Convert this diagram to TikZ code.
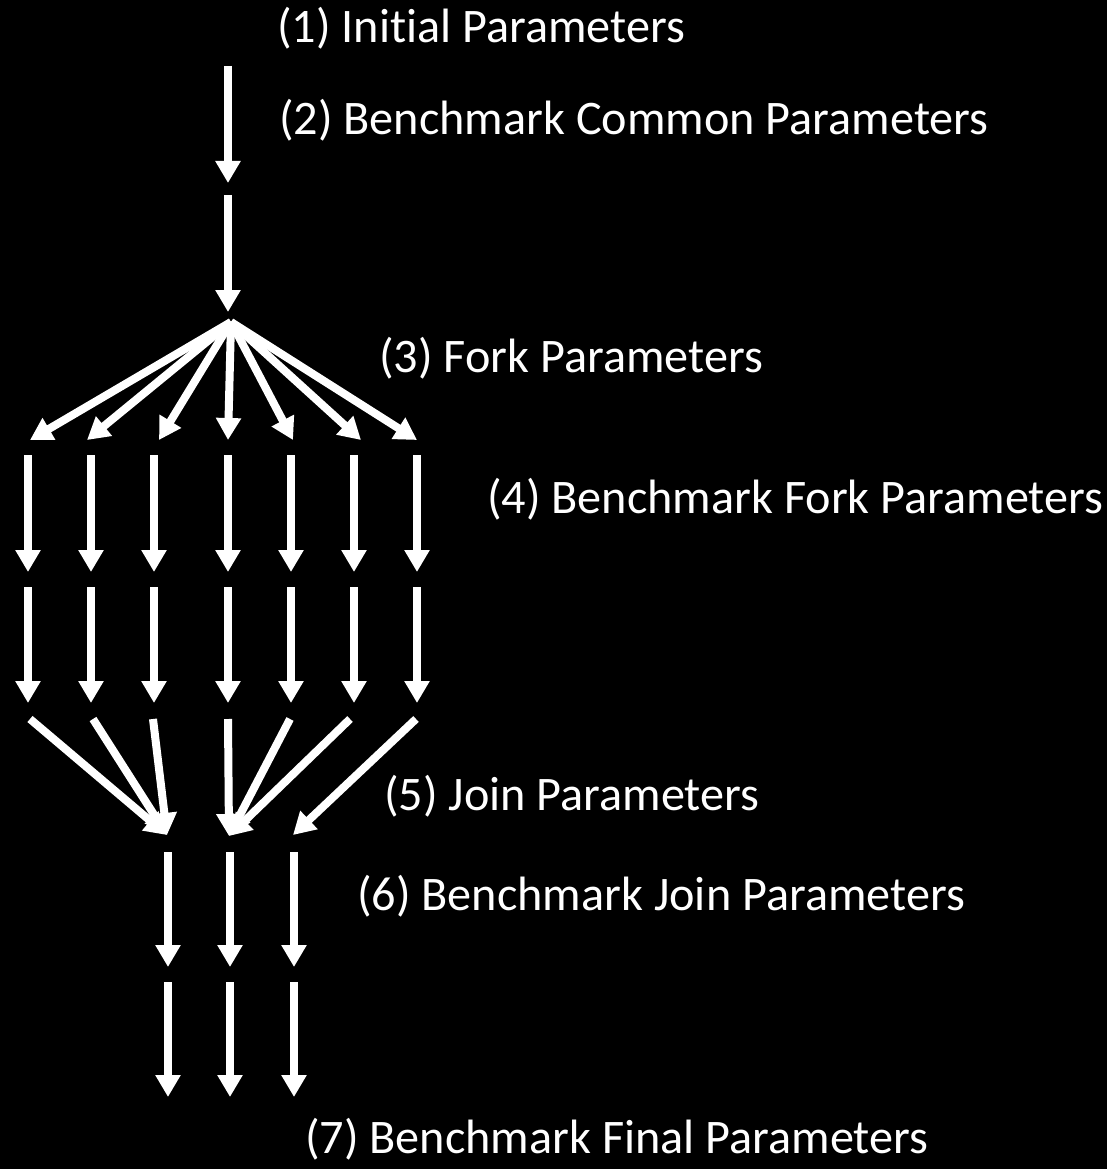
\documentclass[tikz,border=0pt]{standalone}
\usepackage{fontspec}
\setmainfont[Ligatures=NoCommon]{Carlito}
\usetikzlibrary{arrows.meta}
\tikzset{
  flow/.style={draw=white, line width=8pt, -{Triangle[width=24pt,length=22pt]}},
  lbl/.style={text=white, anchor=base west, inner sep=0pt, font=\fontsize{48.2}{50}\selectfont}
}
\begin{document}
\begin{tikzpicture}[x=1pt,y=-1pt]
\fill[black] (0,0) rectangle (1107,1169);
\useasboundingbox (0,0) rectangle (1107,1169);
% labels
\node[lbl] (t1) at (277,43) {(1) Initial Parameters};
\node[lbl] (t2) at (279,135) {(2) Benchmark Common Parameters};
\node[lbl] (t3) at (379,372) {(3) Fork Parameters};
\node[lbl] (t4) at (487,513) {(4) Benchmark Fork Parameters};
\node[lbl] (t5) at (384,810) {(5) Join Parameters};
\node[lbl] (t6) at (357,910) {(6) Benchmark Join Parameters};
\node[lbl] (t7) at (305,1153) {(7) Benchmark Final Parameters};
% top chain
\coordinate (a0) at (228,66);
\coordinate (a1) at (228,183);
\coordinate (b0) at (228,195);
\coordinate (b1) at (228,312);
\draw[flow] (a0) -- (a1);
\draw[flow] (b0) -- (b1);
% fork
\coordinate (apex) at (231,322);
\foreach \i/\x in {1/30,2/87,3/159,4/228,5/293,6/361,7/417}{
  \coordinate (f\i) at (\x,440);
  \draw[flow] (apex) -- (f\i);
}
% column chains
\foreach \i/\x in {1/28,2/91,3/154,4/228,5/291,6/354,7/417}{
  \coordinate (p\i) at (\x,455);
  \coordinate (q\i) at (\x,572);
  \coordinate (r\i) at (\x,587);
  \coordinate (s\i) at (\x,703);
  \coordinate (j\i) at (\x,719);
  \draw[flow] (p\i) -- (q\i);
  \draw[flow] (r\i) -- (s\i);
}
% join
\coordinate (jA) at (167,835);
\coordinate (jB) at (229,836);
\coordinate (jC) at (293,835);
\coordinate (j1) at (30,719);
\coordinate (j2) at (93,719);
\coordinate (j3) at (153,719);
\coordinate (j5) at (290,719);
\coordinate (j6) at (350,719);
\coordinate (j7) at (416,719);
\draw[flow] (j1) -- (jA);
\draw[flow] (j2) -- (jA);
\draw[flow] (j3) -- (jA);
\draw[flow] (j4) -- (jB);
\draw[flow] (j5) -- (jB);
\draw[flow] (j6) -- (jB);
\draw[flow] (j7) -- (jC);
% bottom chains
\foreach \i/\x in {1/168,2/230,3/294}{
  \coordinate (u\i) at (\x,852);
  \coordinate (v\i) at (\x,967);
  \coordinate (w\i) at (\x,982);
  \coordinate (z\i) at (\x,1097);
  \draw[flow] (u\i) -- (v\i);
  \draw[flow] (w\i) -- (z\i);
}
\end{tikzpicture}
\end{document}
